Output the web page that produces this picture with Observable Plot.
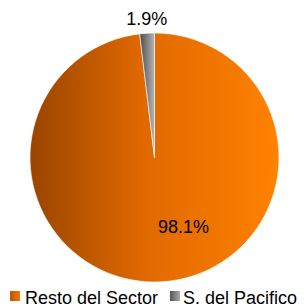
<!DOCTYPE html>
<html>
<head>
<meta charset="utf-8">
<script src="https://cdn.jsdelivr.net/npm/d3@7"></script>
<script src="https://cdn.jsdelivr.net/npm/@observablehq/plot@0.6"></script>
<style>
  html, body { margin: 0; padding: 0; background: #fff; overflow: hidden; }
  #wrap { position: relative; width: 304px; height: 307px; font-family: "Liberation Sans", Arial, sans-serif; }
  #chart svg { display: block; }
  .lg { position: absolute; font-size: 18px; line-height: 20px; color: #000; white-space: nowrap; }
  .sw { position: absolute; width: 10px; height: 10px; }
</style>
</head>
<body>
<div id="wrap">
  <div id="chart"></div>
</div>
<script>
const categories = ["Resto del Sector", "S. del Pacifico"];
const values = [98.1, 1.9];
const labels = ["98.1%", "1.9%"];

// style: gradient stops per category
const gradients = [
  [["0%", "#9a4500"], ["45%", "#e06800"], ["100%", "#ff8200"]],
  [["0%", "#4a4a4a"], ["100%", "#b5b5b5"]]
];
const swatch = ["linear-gradient(to right,#b85400,#f07800)", "linear-gradient(to right,#555,#aaa)"];
// label placement (radius in pie-radius units, angle override in degrees or null = mid angle)
const labelPlace = [{r: 0.605, angle: 157.7}, {r: 1.115, angle: null}];

const pieData = categories.map((c, i) => ({category: c, value: values[i], label: labels[i], i}));
const arcs = d3.pie().sort(null).value(d => d.value)(pieData);

const labelData = arcs.map((a, i) => {
  const ang = labelPlace[i].angle != null ? labelPlace[i].angle * Math.PI / 180 : (a.startAngle + a.endAngle) / 2;
  const r = labelPlace[i].r;
  return {label: a.data.label, x: r * Math.sin(ang), y: -r * Math.cos(ang)};
});

function pieMark(index, scales, values_, dims) {
  const cx = scales.x(0), cy = scales.y(0);
  const R = scales.x(1) - scales.x(0);
  const g = d3.create("svg:g");
  const defs = g.append("defs");
  gradients.forEach((stops, i) => {
    const lg = defs.append("linearGradient").attr("id", "grad" + i)
      .attr("x1", "0").attr("y1", "0").attr("x2", "1").attr("y2", "0");
    stops.forEach(([o, c]) => lg.append("stop").attr("offset", o).attr("stop-color", c));
  });
  const arc = d3.arc().innerRadius(0).outerRadius(R);
  g.append("g").attr("transform", `translate(${cx},${cy})`)
    .selectAll("path").data(arcs).join("path")
    .attr("d", arc)
    .attr("fill", d => `url(#grad${d.data.i})`)
    .attr("stroke", "#fff")
    .attr("stroke-width", 0.6);
  return g.node();
}

const plot = Plot.plot({
  width: 304,
  height: 286,
  margin: 0,
  x: {domain: [-1, 1], range: [30, 279], axis: null},
  y: {domain: [-1, 1], range: [33, 282], axis: null},
  style: {fontFamily: "'Liberation Sans', Arial, sans-serif", background: "#fff"},
  marks: [
    pieMark,
    Plot.text(labelData, {x: "x", y: "y", text: "label", fontSize: 18, fill: "#000", textAnchor: "middle", lineAnchor: "middle"})
  ]
});
document.getElementById("chart").appendChild(plot);

// legend below the chart
const wrap = document.getElementById("wrap");
const legendPos = [{sw: 10, tx: 25}, {sw: 170, tx: 183}];
categories.forEach((c, i) => {
  const s = document.createElement("div");
  s.className = "sw";
  s.style.left = legendPos[i].sw + "px";
  s.style.top = "291px";
  s.style.background = swatch[i];
  wrap.appendChild(s);
  const t = document.createElement("div");
  t.className = "lg";
  t.style.left = legendPos[i].tx + "px";
  t.style.top = "288px";
  t.textContent = c;
  wrap.appendChild(t);
});
</script>
</body>
</html>
